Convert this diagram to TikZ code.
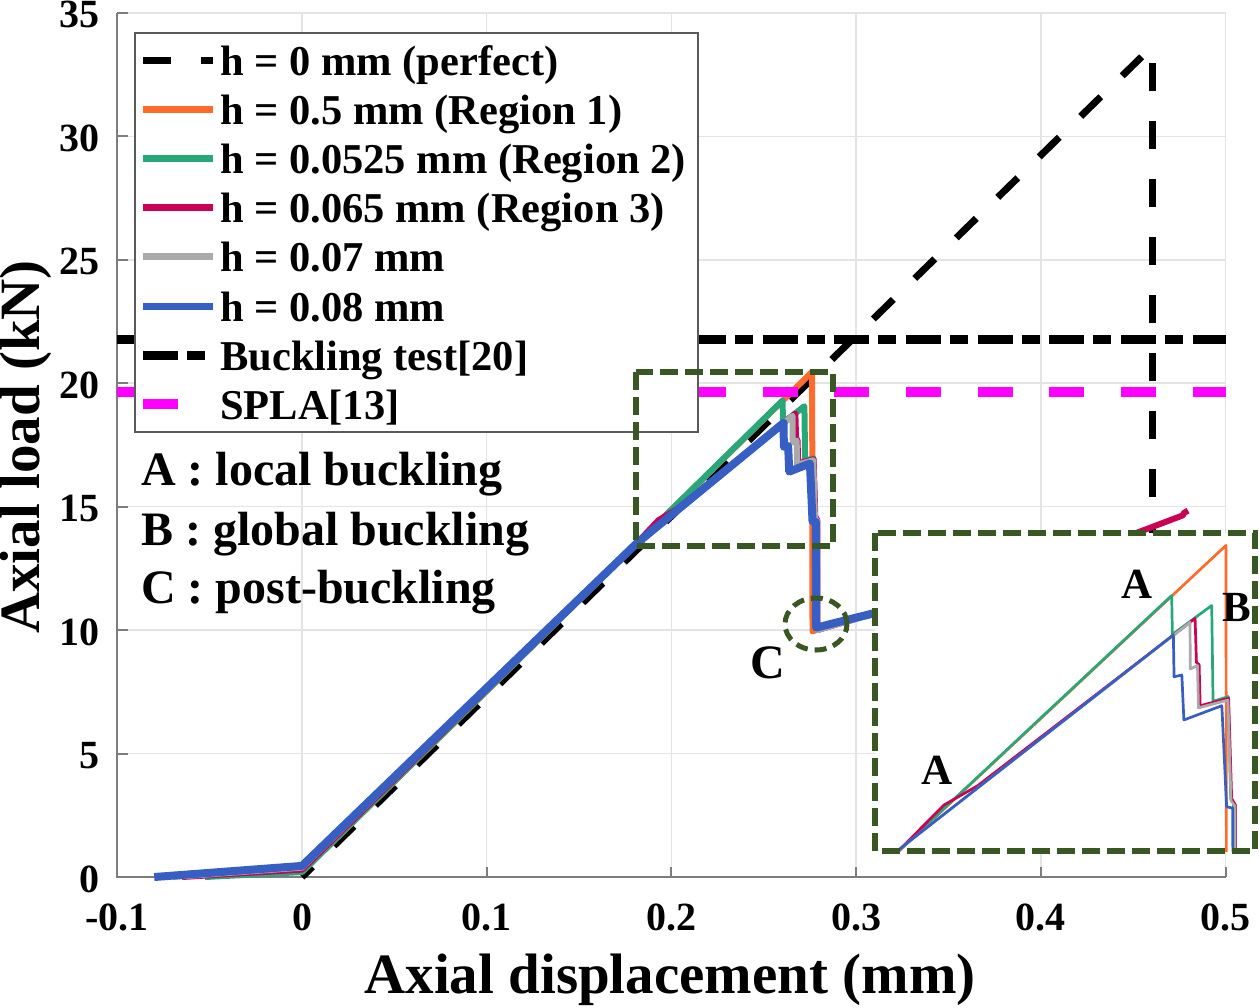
\documentclass[tikz,border=0pt]{standalone}
\usepackage{fontspec}
\setmainfont{Liberation Serif}
\definecolor{corange}{RGB}{255,107,43}
\definecolor{cgreen}{RGB}{40,168,120}
\definecolor{cred}{RGB}{204,0,85}
\definecolor{cgray}{RGB}{170,170,170}
\definecolor{cblue}{RGB}{55,95,195}
\definecolor{cmag}{RGB}{255,0,255}
\definecolor{boxgreen}{RGB}{56,87,35}
\definecolor{gridc}{RGB}{228,228,228}
\definecolor{axc}{RGB}{125,125,125}
\definecolor{legc}{RGB}{90,90,90}
\newcommand\drawcurves[2]{%
  \draw[corange,line width=#1,cjoin] (0,0.2) -- (0.2762,20.46) -- (0.2764,9.95) -- (0.2785,10.0) -- (0.30,10.45);
  \draw[cgreen,line width=#1,cjoin] (-0.0525,0) -- (0,0.2) -- (0.2602,19.30) -- (0.2604,18.40) -- (0.2720,19.07) -- (0.2724,16.85) -- (0.2769,16.96) -- (0.2776,14.6) -- (0.2784,14.5) -- (0.2786,10.05) -- (0.31,10.65);
  \draw[cred,line width=#1,cjoin] (-0.065,0) -- (0,0.3) -- (0.181,13.5) -- (0.193,14.45) -- (0.2030,14.90) -- (0.2671,18.77) -- (0.2675,17.75) -- (0.2683,17.70) -- (0.2686,16.75) -- (0.2770,16.92) -- (0.2779,14.6) -- (0.2790,14.45) -- (0.2790,10.0) -- (0.31,10.7) -- (0.4445,13.73) -- (0.4770,14.65) -- (0.4774,14.74) -- (0.4797,14.84);
  \draw[cgray,line width=#1,cjoin] (-0.07,0) -- (0,0.38) -- (0.181,13.5) -- (0.2656,18.68) -- (0.2657,17.60) -- (0.2678,17.68) -- (0.2681,16.70) -- (0.2768,16.88) -- (0.2777,14.55) -- (0.2789,14.42) -- (0.2789,10.0) -- (0.31,10.68);
  \draw[cblue,line width=#2,cjoin] (-0.08,0) -- (0,0.45) -- (0.181,13.5) -- (0.2607,18.39) -- (0.2609,17.42) -- (0.2632,17.46) -- (0.2638,16.42) -- (0.2750,16.75) -- (0.2764,14.41) -- (0.2782,14.38) -- (0.2784,10.1) -- (0.3093,10.68) -- (0.35,11.4);
}
\begin{document}
\begin{tikzpicture}[x=1pt,y=1pt,
  cjoin/.style={line join=round},
  gridline/.style={draw=gridc,line width=1.5pt},
  axisline/.style={draw=axc,line width=2pt},
  perfectline/.style={black,line width=7pt,dash pattern=on 28pt off 30pt},
  testline/.style={black,line width=9pt,dash pattern=on 35pt off 9pt on 18pt off 9.7pt},
  splaline/.style={cmag,line width=10pt,dash pattern=on 35pt off 36.7pt},
  gbox/.style={draw=boxgreen,line width=6.5pt,dash pattern=on 18pt off 7pt},
  cbox/.style={draw=boxgreen,line width=5pt,dash pattern=on 12pt off 7pt},
  ticklab/.style={inner sep=0pt,text=black,font={\fontsize{40}{48}\selectfont\bfseries}},
  leglab/.style={inner sep=0pt,anchor=base west,font={\fontsize{42.5}{50}\selectfont\bfseries}},
  annlab/.style={inner sep=0pt,anchor=base west,font={\fontsize{48}{56}\selectfont\bfseries}},
  letlab/.style={inner sep=0pt,anchor=base,font={\fontsize{43}{50}\selectfont\bfseries}},
  axlab/.style={inner sep=0pt,font={\fontsize{57}{66}\selectfont\bfseries}},
  legline/.style={line width=7pt}]
\useasboundingbox (0,0) rectangle (1260,-1007);
\fill[white] (0,0) rectangle (1260,-1007);
% ---------- main axes (data coordinates) ----------
\begin{scope}[shift={(302pt,-877pt)},x=1847pt,y=24.69pt]
  \foreach \gx in {-0.1,0,0.1,0.2,0.3,0.4,0.5} \draw[gridline] (\gx,0) -- (\gx,35);
  \foreach \gy in {0,5,10,15,20,25,30,35} \draw[gridline] (-0.1,\gy) -- (0.5,\gy);
  \draw[axisline] (-0.1,35) -- (-0.1,0) -- (0.5,0);
  \foreach \gx in {-0.1,0,0.1,0.2,0.3,0.4,0.5} \draw[axisline] (\gx,0) -- ++(0,10pt);
  \foreach \gy in {0,5,10,15,20,25,30,35} \draw[axisline] (-0.1,\gy) -- ++(11pt,0);
  % perfect
  \draw[perfectline,dash phase=13.4pt] (0,0) -- (0.4546,33.22);
  \draw[perfectline] (0.4605,32.97) -- (0.4605,12);
  \drawcurves{6pt}{8pt}
  \draw[testline] (-0.1,21.79) -- (0.5,21.79);
  \draw[splaline] (-0.1,19.65) -- (0.5,19.65);
\end{scope}
% ---------- tick labels ----------
\foreach \v/\lab [count=\i] in {-0.1/-0.1,0/0,0.1/0.1,0.2/0.2,0.3/0.3,0.4/0.4,0.5/0.5}
  \node[ticklab,anchor=base] (xt\i) at ({302+1847*\v},-930) {\lab};
\foreach \v [count=\i] in {0,5,10,15,20,25,30,35}
  \node[ticklab,anchor=base east] (yt\i) at (100,{-(877-24.69*\v)-15}) {\v};
\node[axlab,anchor=base] (xlabel) at (670,-993) {Axial displacement (mm)};
\node[axlab,rotate=90] (ylabel) at (26,-447) {Axial load (kN)};
% ---------- legend ----------
\draw[draw=legc,fill=white,line width=1.5pt] (135,-33) rectangle (698,-432);
\draw[perfectline] (143,-60) -- (213,-60);
\draw[legline,corange] (143,-109.2) -- (213,-109.2);
\draw[legline,cgreen] (143,-158.4) -- (213,-158.4);
\draw[legline,cred] (143,-207.6) -- (213,-207.6);
\draw[legline,cgray] (143,-256.8) -- (213,-256.8);
\draw[legline,cblue] (143,-306) -- (213,-306);
\draw[testline] (143,-355.2) -- (213,-355.2);
\draw[splaline] (143,-404.4) -- (213,-404.4);
\node[leglab] (l1) at (220,-75) {h = 0 mm (perfect)};
\node[leglab] (l2) at (220,-124.2) {h = 0.5 mm (Region 1)};
\node[leglab] (l3) at (220,-173.4) {h = 0.0525 mm (Region 2)};
\node[leglab] (l4) at (220,-222.6) {h = 0.065 mm (Region 3)};
\node[leglab] (l5) at (220,-271.8) {h = 0.07 mm};
\node[leglab] (l6) at (220,-321) {h = 0.08 mm};
\node[leglab] (l7) at (220,-370.2) {Buckling test[20]};
\node[leglab] (l8) at (220,-419.4) {SPLA[13]};
% ---------- annotations ----------
\node[annlab] (annA) at (141,-485) {A : local buckling};
\node[annlab] (annB) at (141,-545) {B : global buckling};
\node[annlab] (annC) at (141,-603) {C : post-buckling};
\draw[gbox] (636,-372) rectangle (833,-546);
\draw[cbox] (816,-624) ellipse [x radius=31pt,y radius=26pt];
\node[annlab,anchor=base] (labC) at (768,-678) {C};
% ---------- inset ----------
\fill[white] (875,-533) rectangle (1255,-851);
\begin{scope}
  \clip (875,-533) rectangle (1255,-851);
  \begin{scope}[shift={(289.6pt,-1429.3pt)},x=3390pt,y=43.2pt]
    \drawcurves{2.7pt}{2.7pt}
  \end{scope}
\end{scope}
\draw[gbox] (875,-533) rectangle (1255,-851);
\node[letlab] (insA1) at (1137,-598) {A};
\node[letlab] (insA2) at (937,-784) {A};
\node[letlab] (insB) at (1237,-621) {B};
\end{tikzpicture}
\end{document}
